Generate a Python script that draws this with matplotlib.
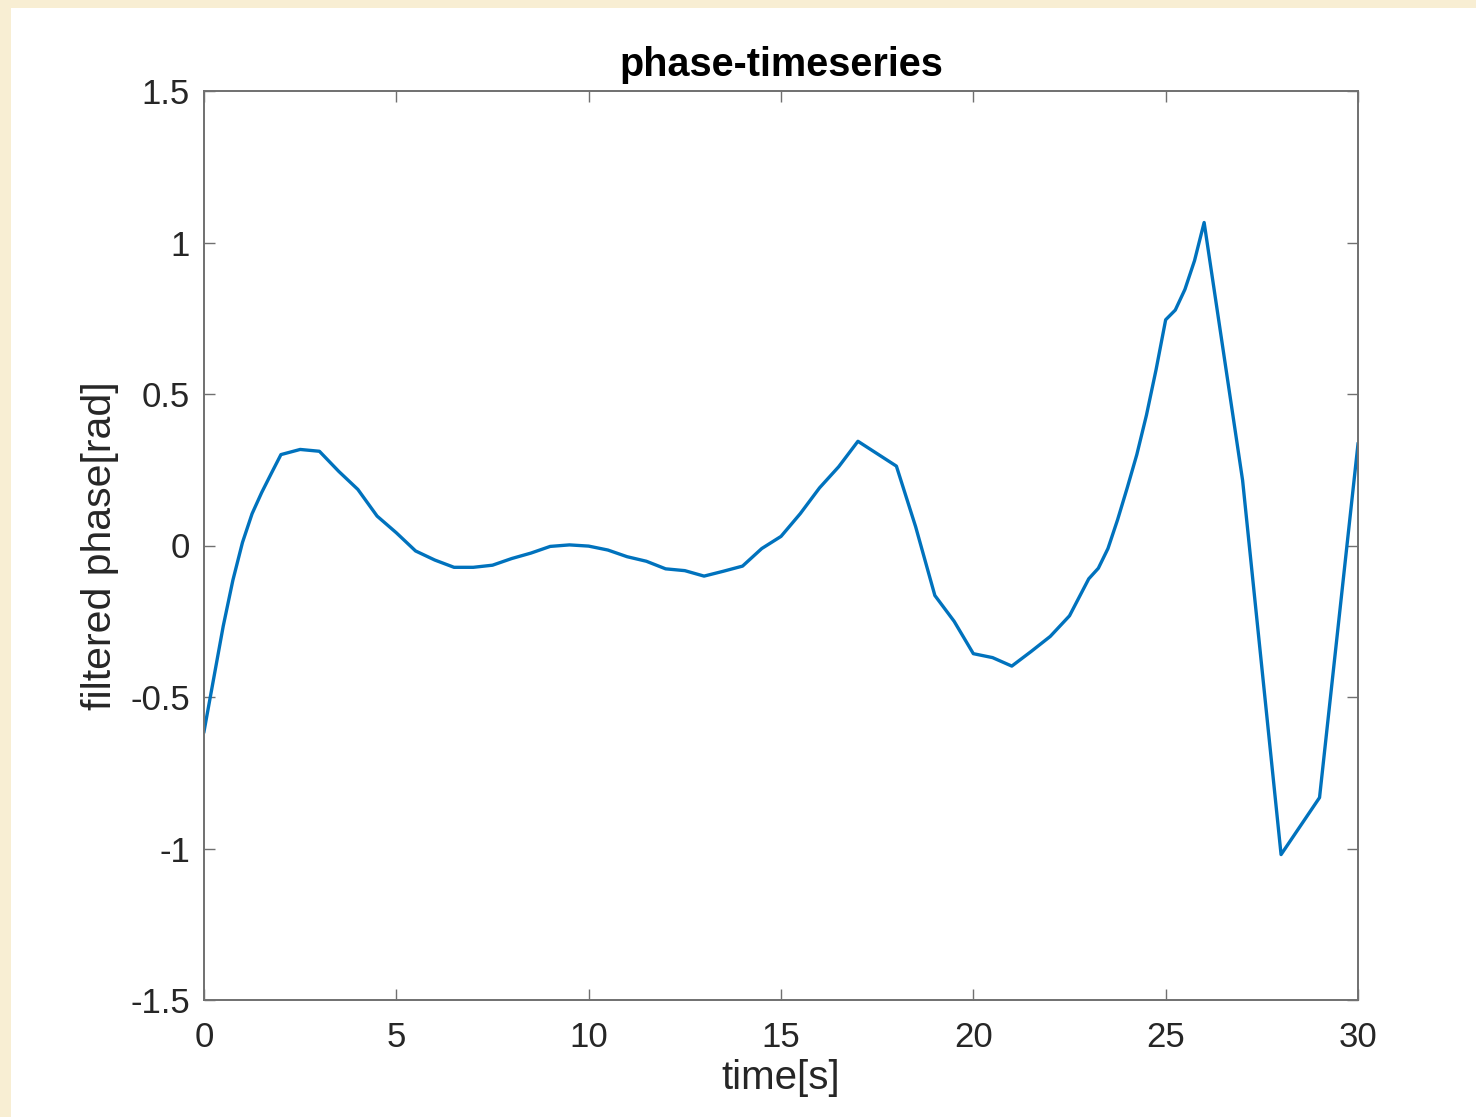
import matplotlib
matplotlib.use("Agg")
import matplotlib.pyplot as plt
from matplotlib.patches import Rectangle

# time samples [s] and filtered phase [rad]
time_s = [0, 0.25, 0.5, 0.75, 1.0, 1.25, 1.5, 1.75, 2.0, 2.5, 3.0, 3.5, 4.0, 4.5,
          5.0, 5.5, 6.0, 6.5, 7.0, 7.5, 8.0, 8.5, 9.0, 9.5, 10.0, 10.5, 11.0,
          11.5, 12.0, 12.5, 13.0, 13.5, 14.0, 14.5, 15.0, 15.5, 16.0, 16.5,
          17.0, 18.0, 18.5, 19.0, 19.5, 20.0, 20.5, 21.0, 21.5, 22.0, 22.5,
          23.0, 23.25, 23.5, 23.75, 24.0, 24.25, 24.5, 24.75, 25.0, 25.25,
          25.5, 25.75, 26.0, 27.0, 28.0, 29.0, 30.0]
phase = [-0.614, -0.44, -0.266, -0.115, 0.01, 0.105, 0.175, 0.238, 0.30, 0.317,
         0.311, 0.245, 0.185, 0.097, 0.042, -0.018, -0.048, -0.072, -0.072,
         -0.065, -0.043, -0.025, -0.003, 0.002, -0.002, -0.015, -0.037, -0.052,
         -0.077, -0.083, -0.101, -0.085, -0.068, -0.01, 0.030, 0.105, 0.19,
         0.26, 0.344, 0.262, 0.062, -0.165, -0.25, -0.357, -0.37, -0.398, -0.35,
         -0.30, -0.232, -0.11, -0.075, -0.01, 0.085, 0.19, 0.30, 0.43, 0.58,
         0.745, 0.777, 0.845, 0.94, 1.066, 0.215, -1.02, -0.832, 0.335]

xticks = [0, 5, 10, 15, 20, 25, 30]
yticks = [-1.5, -1, -0.5, 0, 0.5, 1, 1.5]
yticklabels = ["-1.5", "-1", "-0.5", "0", "0.5", "1", "1.5"]

plt.rcParams['font.family'] = ['Liberation Sans', 'DejaVu Sans']

W, H = 1476, 1117
fig = plt.figure(figsize=(W / 100, H / 100), dpi=100)
fig.patch.set_facecolor('white')
# cream border strips on the left and top
cream = '#f8eed3'
fig.patches.append(Rectangle((0, 0), 11 / W, 1, transform=fig.transFigure,
                             facecolor=cream, edgecolor='none', zorder=-10))
fig.patches.append(Rectangle((0, 1 - 8 / H), 1, 8 / H, transform=fig.transFigure,
                             facecolor=cream, edgecolor='none', zorder=-10))

ax = fig.add_axes([204 / W, 117 / H, (1358 - 204) / W, (1000 - 91) / H])
ax.plot(time_s, phase, color='#0072BD', linewidth=2.4)

ax.set_xlim(0, 30)
ax.set_ylim(-1.5, 1.5)
ax.set_xticks(xticks)
ax.set_xticklabels([str(x) for x in xticks])
ax.set_yticks(yticks)
ax.set_yticklabels(yticklabels)

spine_col = '#707070'
for s in ax.spines.values():
    s.set_color(spine_col)
    s.set_linewidth(1.4)
ax.tick_params(direction='in', length=8, width=1.0, color=spine_col,
               labelsize=25, labelcolor='#262626', top=True, right=True)
ax.tick_params(axis='x', pad=15)
ax.tick_params(axis='y', pad=10)

ax.set_title('phase-timeseries', fontsize=28.5, fontweight='bold', pad=11)
ax.set_xlabel('time[s]', fontsize=29, color='#262626', labelpad=4)
ax.set_ylabel('filtered phase[rad]', fontsize=29.5, color='#262626', labelpad=8)

fig.savefig('out.png', dpi=100, facecolor=fig.get_facecolor())
